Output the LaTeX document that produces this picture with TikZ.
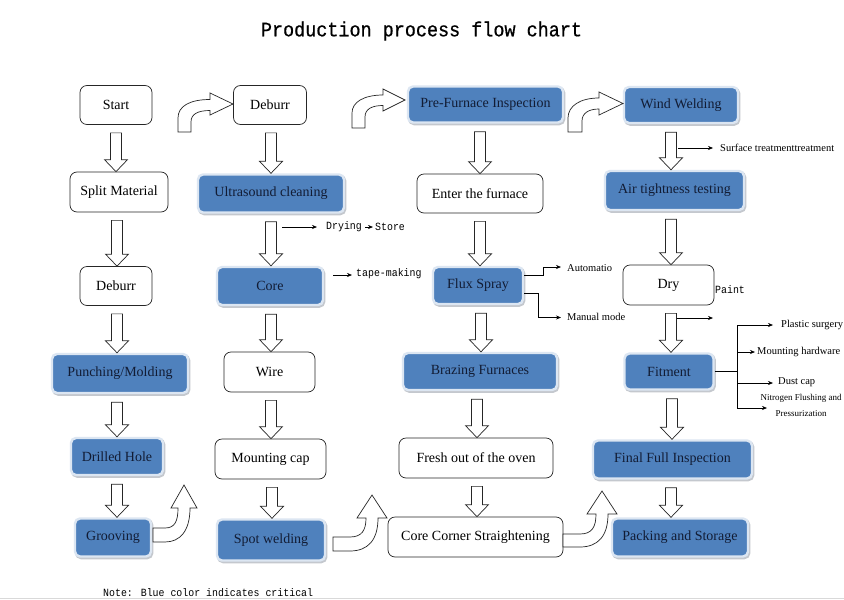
\documentclass[tikz,border=0pt]{standalone}
\usepackage{fontspec}
\setmainfont{Liberation Serif}
\newfontfamily\monofnt[FakeStretch=0.9]{Liberation Mono}
\newfontfamily\titlefnt[FakeStretch=0.9,FakeBold=0.6]{Liberation Mono}
\usetikzlibrary{calc,arrows.meta}
\definecolor{cblue}{HTML}{4F81BD}
\definecolor{cglow}{HTML}{DCE6F2}
\definecolor{cshadow}{HTML}{C4C8CE}
\definecolor{navytext}{HTML}{121C34}
\newcommand{\hdown}[3]{%
 \draw[hollow] let \p1=(#1.south), \p2=(#2.north) in
  ({(#3-5.5)*1pt},{\y1-8pt}) -- ({(#3+5.5)*1pt},{\y1-8pt}) -- ({(#3+5.5)*1pt},{\y2+12pt})
  -- ({(#3+11.5)*1pt},{\y2+12pt}) -- ({#3*1pt},{\y2}) -- ({(#3-11.5)*1pt},{\y2+12pt})
  -- ({(#3-5.5)*1pt},{\y2+12pt}) -- cycle;}
\begin{document}
\begin{tikzpicture}[x=1pt,y=-1pt,
 box/.style={rounded corners=7pt, draw=black!85, line width=0.7pt, fill=white, inner sep=0pt,
   font=\fontsize{14}{16}\selectfont, text=black},
 bbox/.style={rounded corners=5pt, fill=cblue, draw=cglow, line width=2.4pt, inner sep=0pt,
   font=\fontsize{14}{16}\selectfont, text=navytext,
   preaction={draw=cshadow, fill=cshadow, line width=2.4pt, transform canvas={shift={(1.2pt,-1.6pt)}}}},
 hollow/.style={draw=black!85, fill=white, line width=0.7pt, line join=miter},
 larrow/.style={draw=black, line width=0.6pt, -{Stealth[length=5pt,width=4pt]}},
 lline/.style={draw=black, line width=0.6pt},
 lab/.style={inner sep=0pt, anchor=west, font=\fontsize{10.5}{12}\selectfont},
 slab/.style={inner sep=0pt, font=\fontsize{9}{16}\selectfont, align=center},
 mlab/.style={inner sep=0pt, anchor=west, font=\monofnt\fontsize{11}{12}\selectfont},
]
\useasboundingbox[fill=white] (0,0) rectangle (844,600);
\draw[black!15, line width=1.5pt] (0,598.5) -- (844,598.5);

% title and note
\node[inner sep=0pt, font=\titlefnt\fontsize{20.5}{22}\selectfont] (title) at (421.5,31) {Production process flow chart};
\node[mlab] (note) at (103,593) {Note: Blue color indicates critical};

% column 1
\node[box, minimum width=72pt, minimum height=39pt] (start) at (116,105) {Start};
\node[box, minimum width=98pt, minimum height=40pt] (split) at (119,192) {Split Material};
\node[box, minimum width=72pt, minimum height=39pt] (deburra) at (116,286) {Deburr};
\node[bbox, minimum width=136pt, minimum height=39pt] (punch) at (120,373.5) {Punching/Molding};
\node[bbox, minimum width=92pt, minimum height=37pt] (drill) at (117,456.5) {Drilled Hole};
\node[bbox, minimum width=76pt, minimum height=38pt] (groove) at (113,537.5) {Grooving};

% column 2
\node[box, minimum width=73pt, minimum height=39pt] (deburrb) at (270,105) {Deburr};
\node[bbox, minimum width=146pt, minimum height=38pt] (ultra) at (271,193.5) {Ultrasound cleaning};
\node[bbox, minimum width=106pt, minimum height=38pt] (core) at (270,286) {Core};
\node[box, minimum width=91pt, minimum height=40pt] (wire) at (269.5,372) {Wire};
\node[box, minimum width=111pt, minimum height=40pt] (mount) at (270.5,459) {Mounting cap};
\node[bbox, minimum width=108pt, minimum height=41pt] (spot) at (271,540) {Spot welding};

% column 3
\node[bbox, minimum width=155pt, minimum height=36pt] (prefurn) at (485.5,104.5) {Pre-Furnace Inspection};
\node[box, minimum width=126pt, minimum height=39pt] (enter) at (480,193.5) {Enter the furnace};
\node[bbox, minimum width=90pt, minimum height=37pt] (flux) at (478,285.5) {Flux Spray};
\node[bbox, minimum width=154pt, minimum height=37pt] (brazing) at (480,371.5) {Brazing Furnaces};
\node[box, minimum width=154pt, minimum height=40pt] (fresh) at (476,458) {Fresh out of the oven};
\node[box, minimum width=175pt, minimum height=40pt] (corner) at (475.5,537) {Core Corner Straightening};

% column 4
\node[bbox, minimum width=114pt, minimum height=36pt] (wind) at (681,105) {Wind Welding};
\node[bbox, minimum width=139pt, minimum height=39pt] (air) at (674.5,190.5) {Air tightness testing};
\node[box, minimum width=91pt, minimum height=40pt] (dry) at (668.5,285) {Dry};
\node[bbox, minimum width=89pt, minimum height=36pt] (fit) at (669,371.5) {Fitment};
\node[bbox, minimum width=159pt, minimum height=38pt] (final) at (672.5,459.5) {Final Full Inspection};
\node[bbox, minimum width=136pt, minimum height=38pt] (pack) at (680,537.5) {Packing and Storage};

% hollow down arrows
\hdown{start}{split}{116}
\hdown{split}{deburra}{117}
\hdown{deburra}{punch}{117}
\hdown{punch}{drill}{117}
\hdown{drill}{groove}{117}
\hdown{deburrb}{ultra}{271}
\hdown{ultra}{core}{271}
\hdown{core}{wire}{271}
\hdown{wire}{mount}{271}
\hdown{mount}{spot}{272}
\hdown{prefurn}{enter}{480}
\hdown{enter}{flux}{480}
\hdown{flux}{brazing}{481}
\hdown{brazing}{fresh}{477}
\hdown{fresh}{corner}{477}
\hdown{wind}{air}{671}
\hdown{air}{dry}{671}
\hdown{dry}{fit}{671}
\hdown{fit}{final}{672}
\hdown{final}{pack}{671}

% curved hollow arrows (top, turning right)
\draw[hollow] (178,132) -- (178,118) .. controls (178,106) and (190,99.5) .. (210,99.5) -- (210,93)
  -- (233,104) -- (210,115) -- (210,110.5) .. controls (198,110.5) and (191,114) .. (191,122) -- (191,132) -- cycle;
\draw[hollow] (352,128) -- (352,113) .. controls (352,102) and (364,95) .. (383,95) -- (383,89)
  -- (405,100) -- (383,111) -- (383,105.5) .. controls (372,105.5) and (365,109) .. (365,117) -- (365,128) -- cycle;
\draw[hollow] (568,132) -- (568,118) .. controls (568,106) and (580,98) .. (599,98) -- (599,92)
  -- (623,103.5) -- (599,115) -- (599,109) .. controls (589,109) and (582,113) .. (582,121) -- (582,132) -- cycle;
% curved hollow arrows (bottom, turning up)
\draw[hollow] (153,528) -- (165,528) .. controls (175,528) and (178,521) .. (178,508) -- (171,508)
  -- (184,485) -- (197,508) -- (190,508) .. controls (190,531) and (180,542) .. (165,542) -- (153,542) -- cycle;
\draw[hollow] (333,537) -- (350,537) .. controls (362,537) and (366,530) .. (366,518) -- (357,518)
  -- (372,495) -- (387,518) -- (378,518) .. controls (378,540) and (368,551) .. (350,551) -- (333,551) -- cycle;
\draw[hollow] (563,534) -- (580,534) .. controls (592,534) and (596,527) .. (596,514) -- (587,514)
  -- (602,491) -- (617,514) -- (608,514) .. controls (608,536) and (598,547) .. (580,547) -- (563,547) -- cycle;

% side labels
\node[mlab] (drying) at (326,227) {Drying};
\node[mlab] (store) at (375,227) {Store};
\coordinate (ua) at (282,227);
\draw[larrow] (ua) -- ([xshift=-9pt]drying.west);
\draw[larrow] ([xshift=3pt]drying.east) -- ([xshift=-2pt]store.west);

\node[mlab] (tape) at (356,274) {tape-making};
\coordinate (ca) at (333,275);
\draw[larrow] (ca) -- ([xshift=-4pt]tape.west |- ca);

\node[lab] (surf) at (720,148) {Surface treatmenttreatment};
\coordinate (wa) at (678,148);
\draw[larrow] (wa) -- ([xshift=-7pt]surf.west |- wa);

\node[lab] (auto) at (567,268) {Automatio};
\node[lab] (manual) at (567,317) {Manual mode};
\draw[larrow] ([yshift=10pt]flux.east) -- (543,275.5) -- (543,267) -- ([xshift=-6pt]auto.west |- 0,267);
\draw[larrow] ([yshift=-8pt]flux.east) -- (538,293.5) -- (538,317.5) -- ([xshift=-6pt]manual.west |- 0,317.5);

\node[mlab] (paint) at (715,290) {Paint};
\coordinate (da) at (677,318);
\coordinate (db) at (713,318);
\draw[larrow] (da) -- (db);

\node[lab] (plastic) at (781,325) {Plastic surgery};
\node[lab] (mounth) at (757,352) {Mounting hardware};
\node[lab] (dust) at (778,382.5) {Dust cap};
\node[slab, anchor=north] (nitro) at (801,394) {Nitrogen Flushing and\\Pressurization};
\coordinate (fj) at (737,371.5);
\draw[lline] (fit.east |- fj) -- (fj);
\draw[lline] (737,325) -- (737,408);
\draw[larrow] (737,325) -- ([xshift=-8pt]plastic.west |- 0,325);
\draw[larrow] (737,352) -- ([xshift=-2pt]mounth.west |- 0,352);
\draw[larrow] (737,383) -- ([xshift=-5pt]dust.west |- 0,383);
\draw[larrow] (737,408) -- (767,408);
\end{tikzpicture}
\end{document}
